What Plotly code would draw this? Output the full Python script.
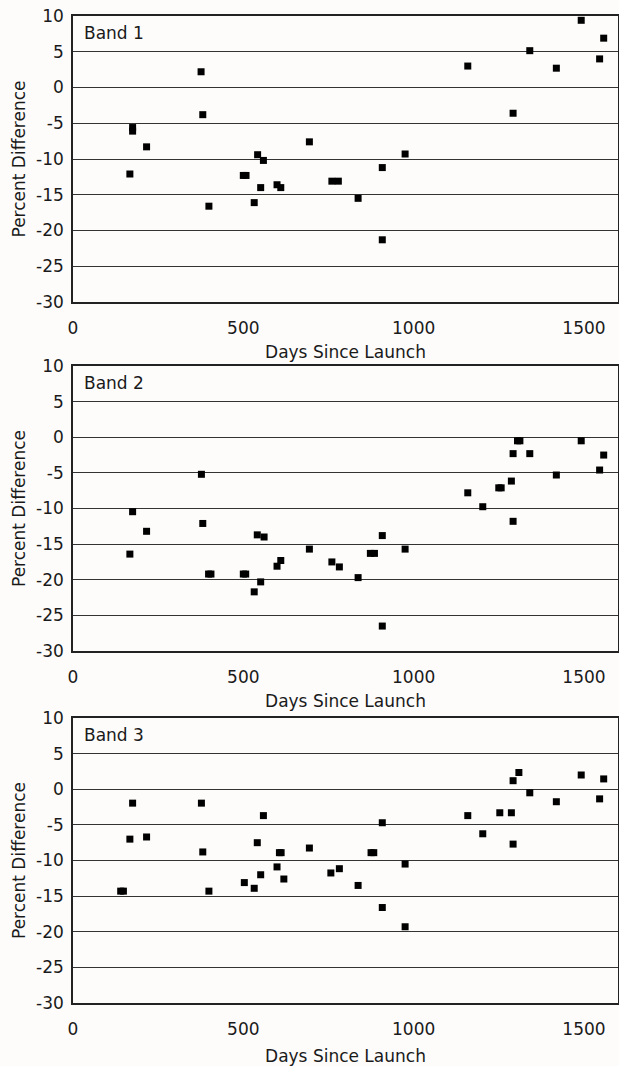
import plotly.graph_objects as go

band1_days = [167, 175, 175, 216, 376, 381, 399, 500, 508, 532, 542, 551, 559, 599, 610, 694,
              760, 779, 837, 908, 908, 975, 1159, 1292, 1341, 1419, 1492, 1546, 1558]
band1_pct = [-12.1, -5.6, -6.1, -8.3, 2.2, -3.8, -16.6, -12.3, -12.3, -16.1, -9.4, -14.0, -10.2, -13.6, -14.0, -7.6,
             -13.1, -13.1, -15.5, -11.2, -21.3, -9.3, 3.0, -3.6, 5.15, 2.7, 9.4, 4.0, 6.9]

band2_days = [167, 175, 216, 377, 381, 398, 405, 500, 507, 532, 541, 551, 561, 599, 610, 694,
              760, 782, 837, 873, 885, 908, 908, 975, 1159, 1203, 1250, 1257, 1287, 1292, 1292,
              1305, 1312, 1341, 1419, 1492, 1546, 1558]
band2_pct = [-16.4, -10.45, -13.2, -5.2, -12.1, -19.2, -19.2, -19.2, -19.2, -21.7, -13.7, -20.3, -14.0, -18.1, -17.3, -15.7,
             -17.5, -18.2, -19.7, -16.3, -16.3, -13.8, -26.5, -15.7, -7.8, -9.75, -7.1, -7.1, -6.15, -11.8, -2.3,
             -0.5, -0.5, -2.3, -5.3, -0.5, -4.6, -2.5]

band3_days = [140, 148, 167, 175, 216, 377, 381, 399, 503, 532, 541, 551, 559, 599, 606, 611, 619, 694,
              757, 782, 837, 875, 883, 908, 908, 975, 975, 1159, 1203, 1253, 1287, 1292, 1292,
              1309, 1341, 1419, 1492, 1546, 1558]
band3_pct = [-14.3, -14.3, -7.0, -1.95, -6.7, -1.95, -8.8, -14.3, -13.1, -13.9, -7.5, -12.0, -3.7, -10.9, -8.9, -8.9, -12.6, -8.25,
             -11.75, -11.15, -13.5, -8.9, -8.9, -4.7, -16.6, -10.5, -19.3, -3.7, -6.25, -3.3, -3.3, -7.7, 1.2,
             2.35, -0.5, -1.75, 2.0, -1.35, 1.45]

band_names = ["Band 1", "Band 2", "Band 3"]
y_ticks = [10, 5, 0, -5, -10, -15, -20, -25, -30]
x_ticks = [0, 500, 1000, 1500]

W, H = 619, 1066
BG = "#FDFCFA"
FONT = dict(family="DejaVu Sans", size=17, color="#1a1a1a")

# pixel geometry of each plot area (top, bottom)
panels = [(16, 302), (366, 651), (718, 1003)]
x_left, x_right = 73, 618

fig = go.Figure()
data = [(band1_days, band1_pct), (band2_days, band2_pct), (band3_days, band3_pct)]

for i, ((days, pct), (top, bot)) in enumerate(zip(data, panels)):
    n = "" if i == 0 else str(i + 1)
    fig.add_trace(go.Scatter(
        x=days, y=pct, mode="markers", xaxis="x" + n, yaxis="y" + n,
        marker=dict(symbol="square", size=7, color="black", line=dict(width=0)),
        showlegend=False, hoverinfo="x+y"))
    xdom = [x_left / W, x_right / W]
    ydom = [1 - bot / H, 1 - top / H]
    fig.update_layout(**{
        "xaxis" + n: dict(
            domain=xdom, range=[0, 1600], anchor="y" + n,
            tickvals=x_ticks, ticktext=[str(v) for v in x_ticks],
            showgrid=False, zeroline=False,
            showline=True, linecolor="#222222", linewidth=1.6, mirror=True,
            ticks="", ticklabelstandoff=10, tickfont=FONT,
            title=dict(text="Days Since Launch", font=FONT, standoff=9 if i < 2 else 12),
            automargin=False, fixedrange=True),
        "yaxis" + n: dict(
            domain=ydom, range=[-30, 10], anchor="x" + n,
            tickvals=y_ticks, ticktext=[str(v) for v in y_ticks],
            showgrid=True, gridcolor="#333333", gridwidth=1, zeroline=False,
            showline=True, linecolor="#222222", linewidth=1.6, mirror=True,
            ticks="", ticklabelstandoff=4, tickfont=FONT,
            title=dict(text="Percent Difference", font=FONT, standoff=6),
            automargin=False, fixedrange=True),
    })
    fig.add_annotation(
        text=band_names[i], xref=("x" + n + " domain"), yref=("y" + n + " domain"),
        x=0.016, y=1 - 17 / (bot - top), xanchor="left", yanchor="middle",
        showarrow=False, font=FONT)

fig.update_layout(
    width=W, height=H,
    margin=dict(l=0, r=0, t=0, b=0),
    paper_bgcolor=BG, plot_bgcolor=BG,
    font=FONT,
)

fig.write_html("out.html")
